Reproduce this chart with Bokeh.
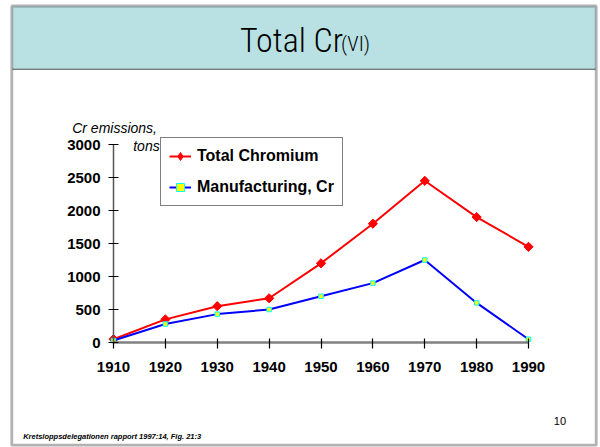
import math
from bokeh.plotting import figure
from bokeh.models import (Range1d, FixedTicker, Legend, LegendItem, Label, BoxAnnotation)
from bokeh.embed import file_html
from bokeh.resources import INLINE

# ---- data ----
years = [1910, 1920, 1930, 1940, 1950, 1960, 1970, 1980, 1990]
total_chromium = [50, 350, 550, 670, 1200, 1800, 2450, 1900, 1450]
manufacturing_cr = [30, 280, 430, 500, 700, 900, 1250, 600, 50]
y_ticks = [0, 500, 1000, 1500, 2000, 2500, 3000]
series_names = ["Total Chromium", "Manufacturing, Cr"]
title_main = "Total Cr"
title_sub = "(VI)"
y_caption = ["Cr emissions,", "tons"]
footnote = "Kretsloppsdelegationen rapport 1997:14, Fig. 21:3"
page_no = "10"

W, H = 600, 447
X0_PAGE, X1_PAGE = 113.0, 528.0   # where 1910 and 1990 sit
Y0_PAGE, Y1_PAGE = 342.0, 144.0   # where 0 and 3000 sit
kx = (X1_PAGE - X0_PAGE) / (years[-1] - years[0])
ky = (Y0_PAGE - Y1_PAGE) / (y_ticks[-1] - y_ticks[0])
x_start = years[0] - X0_PAGE / kx
x_end = x_start + W / kx
y_start = y_ticks[0] - (H - Y0_PAGE) / ky
y_end = y_start + H / ky

p = figure(width=W, height=H, output_backend="svg", toolbar_location=None,
           x_range=Range1d(x_start, x_end), y_range=Range1d(y_start, y_end),
           min_border=0, background_fill_color="white", border_fill_color="white")
p.outline_line_color = None
p.grid.visible = False

def sx(x):
    return x
def sy(y):
    return H - y

def box(l, r, t, b, **kw):
    return BoxAnnotation(left=sx(l), right=sx(r), top=sy(t), bottom=sy(b),
                         left_units="screen", right_units="screen",
                         top_units="screen", bottom_units="screen", level="underlay", **kw)

def text(x, y, s, font, size, style="normal"):
    return Label(x=sx(x), y=sy(y), x_units="screen", y_units="screen", text=s,
                 text_font=font, text_font_size=f"{size}px", text_font_style=style,
                 text_color="black", text_baseline="alphabetic", text_align="left")

# slide decorations
p.add_layout(box(12, 595, 6, 68, fill_color="#B9E0E3", fill_alpha=1, line_color=None))
p.add_layout(box(12, 595, 68, 69.5, fill_color="#6E7C7D", fill_alpha=1, line_color=None))
p.add_layout(box(11.3, 595.7, 5.5, 444.7, fill_alpha=0, line_color="black", line_width=2.8))

# axes
xa = p.xaxis[0]
xa.fixed_location = 0
xa.bounds = (years[0], years[-1])
xa.ticker = FixedTicker(ticks=years)
xa.axis_line_color = "#808080"
xa.axis_line_width = 2.5
xa.major_tick_line_color = "black"
xa.major_tick_line_width = 1.2
xa.major_tick_in = 4
xa.major_tick_out = 6
xa.minor_tick_line_color = None
xa.major_label_standoff = 13
xa.major_label_text_font = "Liberation Sans"
xa.major_label_text_font_style = "bold"
xa.major_label_text_font_size = "15px"
xa.major_label_text_color = "black"

ya = p.yaxis[0]
ya.fixed_location = years[0]
ya.bounds = (y_ticks[0], y_ticks[-1])
ya.ticker = FixedTicker(ticks=y_ticks)
ya.axis_line_color = "#555555"
ya.axis_line_width = 1.5
ya.major_tick_line_color = "black"
ya.major_tick_line_width = 1.2
ya.major_tick_in = 5
ya.major_tick_out = 5
ya.minor_tick_line_color = None
ya.major_label_standoff = 8
ya.major_label_text_font = "Liberation Sans"
ya.major_label_text_font_style = "bold"
ya.major_label_text_font_size = "15px"
ya.major_label_text_color = "black"

p.add_layout(text(239.5, 39.5, title_main, "Roboto Condensed Light", 34))
p.add_layout(text(340.5, 43.7, title_sub, "Roboto Condensed Light", 21))

p.add_layout(text(71.7, 127.1, y_caption[0], "Liberation Sans", 14, "italic"))
p.add_layout(text(132.7, 145.4, y_caption[1], "Liberation Sans", 14, "italic"))
p.add_layout(text(553.3, 420.4, page_no, "Liberation Sans", 11))
p.add_layout(text(22.7, 436.2, footnote, "Liberation Sans", 7.5, "bold italic"))

# series
r1l = p.line(years, total_chromium, line_color="#FF0000", line_width=2)
r1s = p.scatter(years, total_chromium, marker="square", angle=math.pi / 4, size=6.5,
                fill_color="#FF0000", line_color="#FF0000", line_width=1)
r1leg = p.scatter(years, total_chromium, marker="diamond", size=9,
                  fill_color="#FF0000", line_color="#FF0000", line_width=1, visible=False)
r2l = p.line(years, manufacturing_cr, line_color="#0000FF", line_width=2)
r2s = p.scatter(years, manufacturing_cr, marker="square", size=4.5,
                fill_color="#FFFF00", line_color="#00FFFF", line_width=1)

legend = Legend(items=[LegendItem(label=series_names[0], renderers=[r1l, r1leg]),
                       LegendItem(label=series_names[1], renderers=[r2l, r2s])],
                location=(sx(160), sy(206)),
                border_line_color="black", border_line_width=1,
                background_fill_color="white", background_fill_alpha=1,
                label_text_font="Liberation Sans", label_text_font_style="bold",
                label_text_font_size="16px", label_text_color="black",
                glyph_width=22, glyph_height=20, label_height=20, label_standoff=6,
                padding=8, spacing=11, margin=0)
p.add_layout(legend, "center")

open("out.html", "w").write(file_html(p, INLINE))
